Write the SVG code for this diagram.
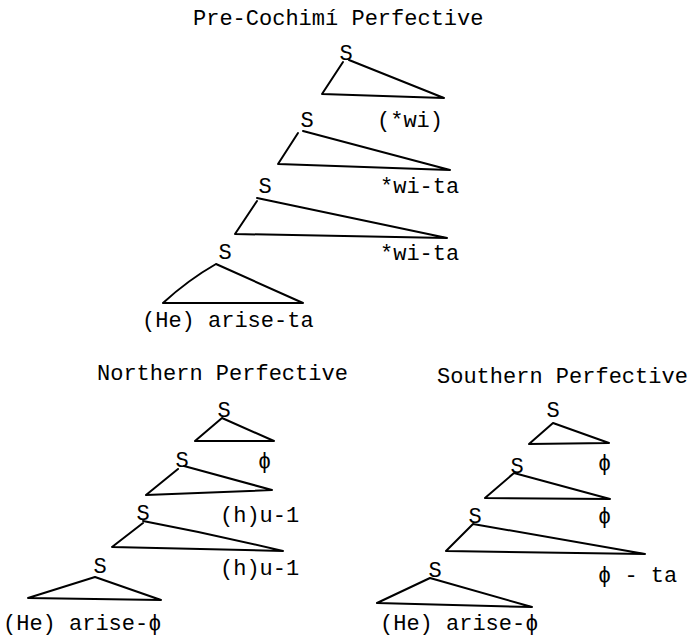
<svg xmlns="http://www.w3.org/2000/svg" width="688" height="637" viewBox="0 0 688 637">
<style>
text{font-family:"Liberation Mono","DejaVu Sans Mono",monospace;font-size:22px;fill:#000}
.s{text-anchor:middle}
.tri{fill:none;stroke:#000;stroke-width:2;stroke-linejoin:round;stroke-linecap:round}
</style>
<rect width="688" height="637" fill="#fff"/>
<g id="titles">
<text id="title-pre" x="193" y="25">Pre-Cochimí Perfective</text>
<text id="title-north" x="97" y="380">Northern Perfective</text>
<text id="title-south" x="437" y="383">Southern Perfective</text>
</g>
<g id="connectors">
<path class="tri" d="M343,62 L322,94 L444,98 L349,60"/>
<path class="tri" d="M298,133 L278,164 L450,170 L303,131"/>
<path class="tri" d="M257,201 L235,234 L447,238 L257,198"/>
<path class="tri" d="M216,264 Q188,280 163,303 L303,303 L216,264"/>
<path class="tri" d="M222,418 L195,441 L274,441 L222,418"/>
<path class="tri" d="M178,469 L146,495 L272,490 L184,466"/>
<path class="tri" d="M143,523 L112,547 L283,551 Q212,534 143,521"/>
<path class="tri" d="M95,577 L28,598 L161,600 L95,577"/>
<path class="tri" d="M553,423 L529,444 L609,443 L553,423"/>
<path class="tri" d="M514,473 L485,498 L610,499 L514,473"/>
<path class="tri" d="M473,524 L446,551 L645,554 L473,524"/>
<path class="tri" d="M430,578 L377,603 L532,607 L430,578"/>
</g>
<g id="pre-s1"><text class="s" x="346" y="60">S</text><text x="377" y="127">(*wi)</text></g>
<g id="pre-s2"><text class="s" x="307" y="127">S</text><text x="380" y="193">*wi-ta</text></g>
<g id="pre-s3"><text class="s" x="265" y="193">S</text><text x="380" y="260">*wi-ta</text></g>
<g id="pre-s4"><text class="s" x="225" y="259">S</text><text x="142" y="327">(He) arise-ta</text></g>
<g id="north-s1"><text class="s" x="224" y="417">S</text><text x="258" y="468">ϕ</text></g>
<g id="north-s2"><text class="s" x="182" y="467">S</text><text x="220" y="522">(h)u-1</text></g>
<g id="north-s3"><text class="s" x="143" y="520">S</text><text x="220" y="575">(h)u-1</text></g>
<g id="north-s4"><text class="s" x="100" y="573">S</text><text x="3" y="630">(He) arise-ϕ</text></g>
<g id="south-s1"><text class="s" x="553" y="417">S</text><text x="598" y="470">ϕ</text></g>
<g id="south-s2"><text class="s" x="517" y="473">S</text><text x="598" y="523">ϕ</text></g>
<g id="south-s3"><text class="s" x="475" y="523">S</text><text x="598" y="582">ϕ - ta</text></g>
<g id="south-s4"><text class="s" x="435" y="577">S</text><text x="380" y="630">(He) arise-ϕ</text></g>
</svg>
